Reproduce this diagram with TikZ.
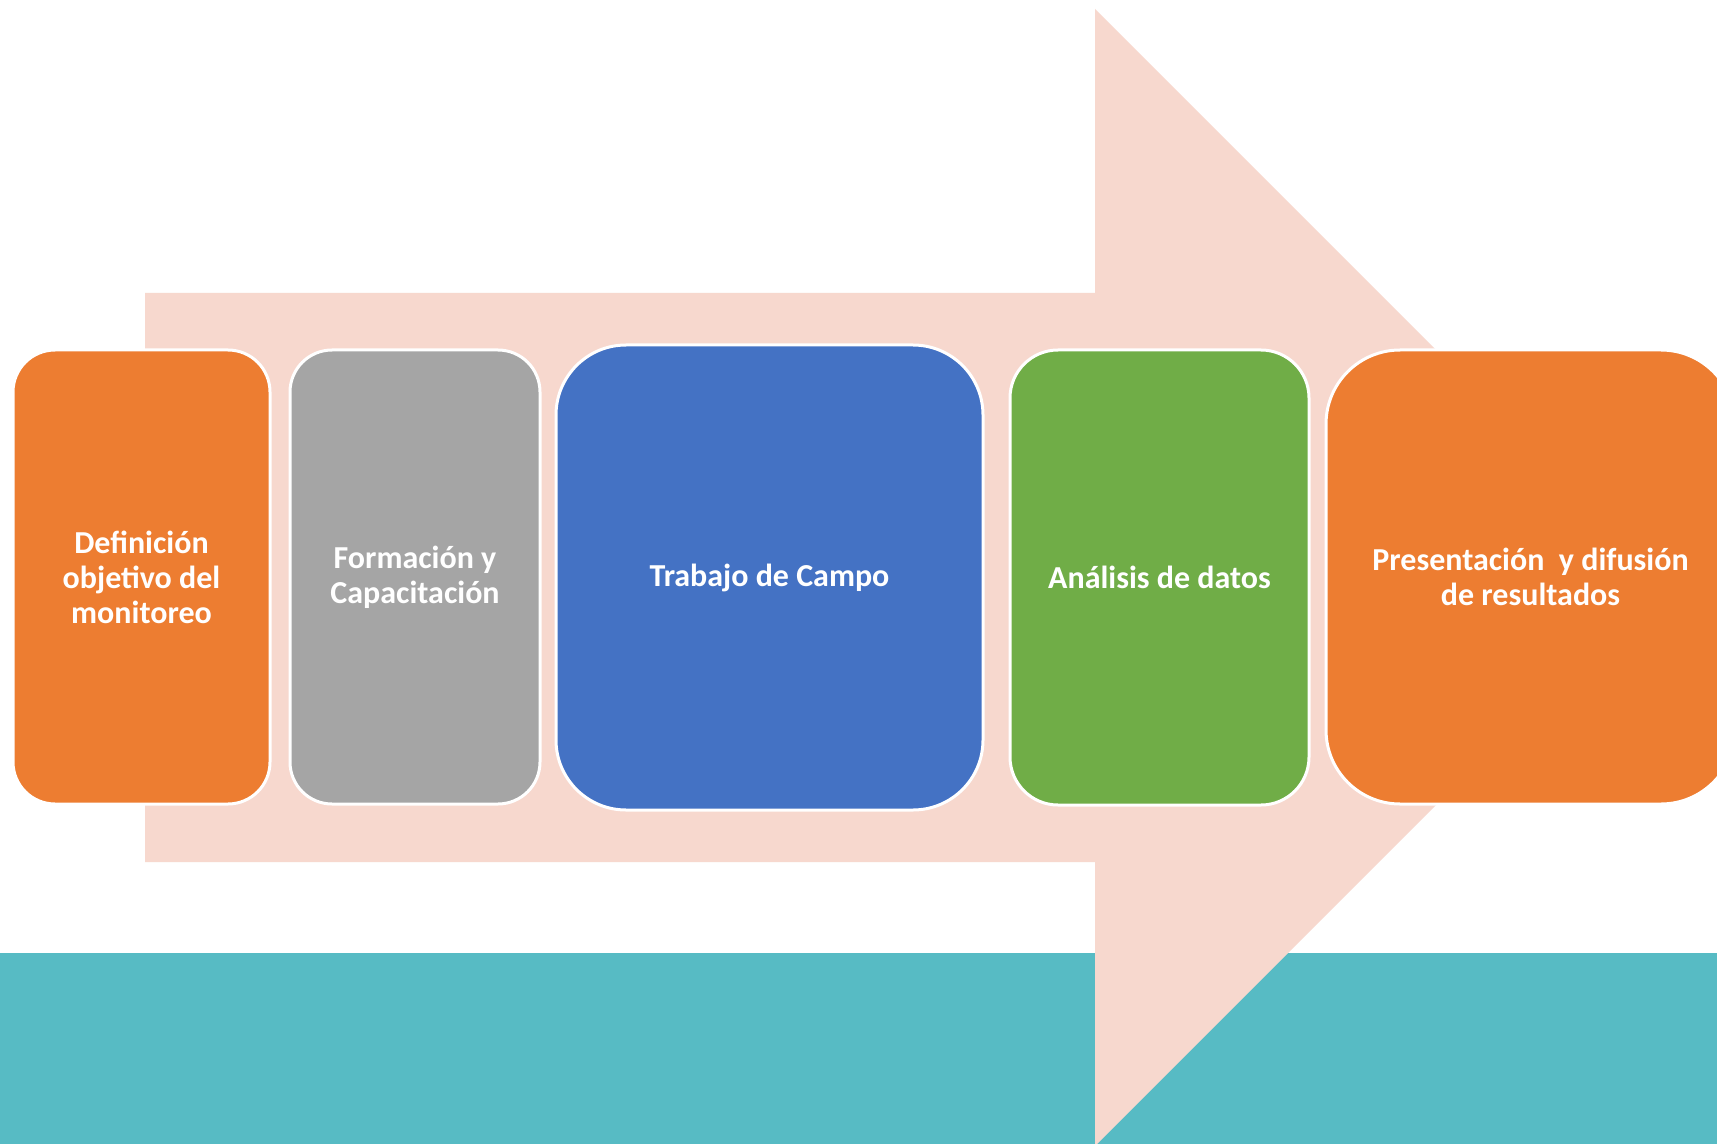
\documentclass[tikz,border=0pt]{standalone}
\usepackage{fontspec}
\setmainfont{Carlito}
\definecolor{tealband}{HTML}{57BBC4}
\definecolor{arrowpink}{HTML}{F7D8CE}
\definecolor{borange}{HTML}{ED7D31}
\definecolor{bgray}{HTML}{A5A5A5}
\definecolor{bblue}{HTML}{4472C4}
\definecolor{bgreen}{HTML}{70AD47}
\tikzset{
  stepbox/.style={rectangle, draw=white, line width=1.5pt, text=white,
    font=\bfseries\fontsize{16}{17.5}\selectfont, align=center, inner sep=0pt},
}
\begin{document}
\begin{tikzpicture}[x=0.5pt,y=-0.5pt]
\useasboundingbox (0,0) rectangle (1717,1144);
\clip (0,0) rectangle (1717,1144);
\fill[white] (0,0) rectangle (1717,1144);
\fill[tealband] (0,953) rectangle (1717,1144);
\fill[arrowpink] (145,293) -- (1095,293) -- (1095,9) -- (1663.5,577.5) -- (1095,1146) -- (1095,862) -- (145,862) -- cycle;
\node[stepbox, fill=borange, minimum width=128.5pt, minimum height=227pt, rounded corners=21pt] (b1) at (141.5,577) {Definición\\objetivo del\\monitoreo};
\node[stepbox, fill=bgray, minimum width=125pt, minimum height=227pt, rounded corners=21pt] (b2) at (415,577) {Formación y\\Capacitación};
\node[stepbox, fill=bblue, minimum width=213.5pt, minimum height=232.5pt, rounded corners=35pt] (b3) at (769.5,577.5) {Trabajo de Campo};
\node[stepbox, fill=bgreen, minimum width=149.5pt, minimum height=227.5pt, rounded corners=24pt] (b4) at (1159.5,577.5) {Análisis de datos};
\node[stepbox, fill=borange, minimum width=204.5pt, minimum height=227pt, rounded corners=37pt] (b5) at (1530.5,577) {Presentación\ \ y difusión\\de resultados};
\end{tikzpicture}
\end{document}
